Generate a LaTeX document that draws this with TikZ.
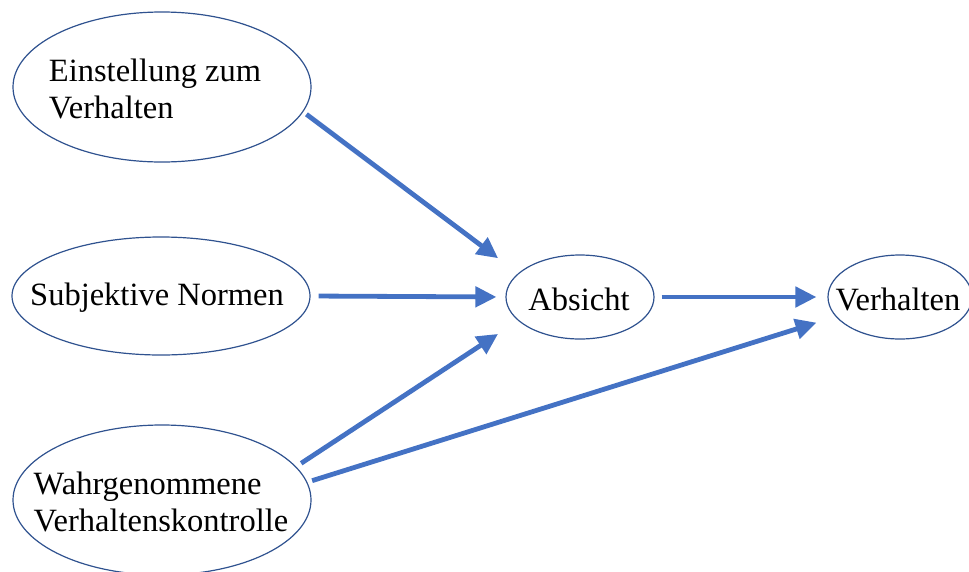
\documentclass[tikz,border=0pt]{standalone}
\usepackage{fontspec}
\setmainfont{Liberation Serif}
\usetikzlibrary{shapes.geometric,arrows.meta}
\definecolor{ringblau}{HTML}{2F528F}
\definecolor{pfeilblau}{HTML}{4472C4}
\begin{document}
\begin{tikzpicture}[x=1pt, y=-1pt, line join=round,
	bubble/.style={draw=ringblau, line width=1.2pt, ellipse, inner sep=0pt},
	schrift/.style={inner sep=0pt, align=left, font=\fontsize{32.5}{37}\selectfont},
	pfeil/.style={draw=pfeilblau, line width=4.8pt, -{Triangle[length=21pt,width=20pt]}}]
				\useasboundingbox (0,0) rectangle (969,571);
				\node[bubble, minimum width=298pt, minimum height=150pt] (einst) at (162,87) {};
				\node[bubble, minimum width=298pt, minimum height=118pt] (subj) at (161,296) {};
				\node[bubble, minimum width=298pt, minimum height=150pt] (wahr) at (162,500) {};
				\node[bubble, minimum width=148pt, minimum height=84pt] (absicht) at (580,297) {};
				\node[bubble, minimum width=144pt, minimum height=84pt] (verh) at (900,297) {};
				\node[schrift] (einst-txt) at (155,89) {Einstellung zum\\Verhalten};
				\node[schrift] (subj-txt) at (157,298) {Subjektive Normen};
				\node[schrift] (wahr-txt) at (161,502) {Wahrgenommene\\Verhaltenskontrolle};
				\node[schrift] (absicht-txt) at (579,299) {Absicht};
				\node[schrift] (verh-txt) at (898,299) {Verhalten};
				\draw[pfeil, shorten <=4pt, shorten >=25pt] (einst.-10) -- (absicht.159);
				\draw[pfeil, shorten <=8pt, shorten >=9pt] (subj.0) -- (absicht.180);
				\draw[pfeil, shorten <=6pt, shorten >=24pt] (wahr.14) -- (absicht.201);
				\draw[pfeil, shorten <=5pt, shorten >=20pt] (wahr.7.6) -- (verh.197.6);
				\draw[pfeil, shorten <=7pt, shorten >=11pt] (absicht.0) -- (verh.180);
			\end{tikzpicture}
\end{document}
